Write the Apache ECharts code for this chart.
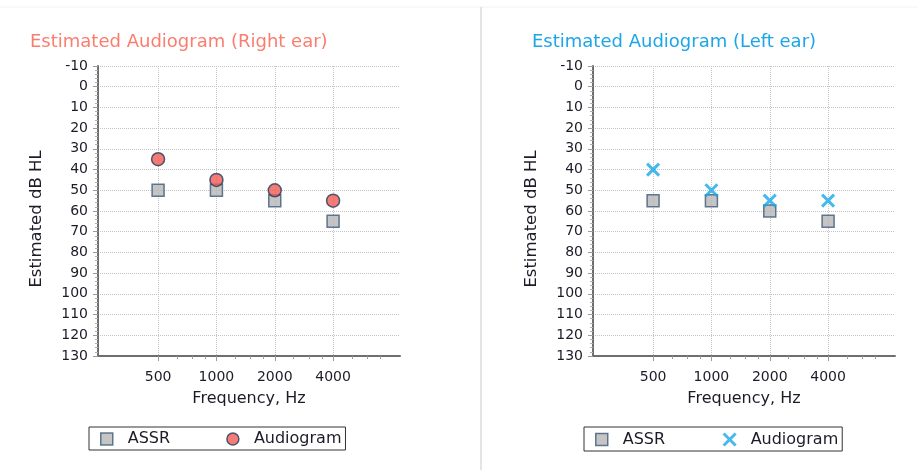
<!DOCTYPE html>
<html>
<head>
<meta charset="utf-8">
<script src="https://cdn.jsdelivr.net/npm/echarts@6/dist/echarts.min.js"></script>
<style>
html,body{margin:0;padding:0;background:#fff;}
#chart{width:917px;height:470px;}
</style>
</head>
<body>
<div id="chart"></div>
<script>
// ---- data ----
const freqs = [500, 1000, 2000, 4000];
const minorFreqs = [625, 750, 875, 1250, 1500, 1750, 2500, 3000, 3500, 5000, 6000, 7000];
const rightASSR = [50, 50, 55, 65];
const rightAudiogram = [35, 45, 50, 55];
const leftASSR = [55, 55, 60, 65];
const leftAudiogram = [40, 50, 55, 55];
const yMin = -10, yMax = 130, yStep = 10;
const titles = ['Estimated Audiogram (Right ear)', 'Estimated Audiogram (Left ear)'];
const seriesNames = ['ASSR', 'Audiogram'];

// ---- styling ----
const FONT = 'DejaVu Sans';
const TXT = '#1c1c28';
const oct = f => Math.log2(f / 500);
const xMin = -1.03, xMax = 4.147;
const gridLefts = [98, 593];
const titleLefts = [25, 527];
const titleColors = ['#fa7d6e', '#1ca6e6'];
const legendLefts = [89, 584];
const X_PATH = 'path://M0,0L10,10M10,0L0,10';

const assrStyle = {color: '#b7b7b7', borderColor: '#3d5a78', borderWidth: 1.5};
const audioStyleR = {color: '#f25a52', borderColor: '#1f3c5c', borderWidth: 1.5};
const audioStyleL = {color: 'none', borderColor: '#19a8e8', borderWidth: 3};

const grid = [], xAxis = [], yAxis = [], series = [], title = [], legend = [];
[0, 1].forEach(g => {
  grid.push({left: gridLefts[g], top: 66, width: 302, height: 290});
  title.push({text: titles[g], left: titleLefts[g], top: 28,
    textStyle: {fontFamily: FONT, fontSize: 18, fontWeight: 'normal', color: titleColors[g]}});
  xAxis.push({
    type: 'value', gridIndex: g, min: xMin, max: xMax, position: 'bottom',
    axisLine: {show: true, onZero: false, lineStyle: {color: '#6e6e6e', width: 2}},
    axisTick: {show: true, customValues: freqs.map(oct), length: 5, lineStyle: {color: '#9a9a9a'}},
    axisLabel: {customValues: freqs.map(oct), formatter: v => String(Math.round(500 * Math.pow(2, v))),
      margin: 14, fontFamily: FONT, fontSize: 14, color: TXT},
    splitLine: {show: true, lineStyle: {type: 'dotted', color: '#c4c4c4'}},
    name: 'Frequency, Hz', nameLocation: 'middle', nameGap: 35,
    nameTextStyle: {fontFamily: FONT, fontSize: 16, color: TXT}
  });
  xAxis.push({
    type: 'value', gridIndex: g, min: xMin, max: xMax, position: 'bottom',
    axisLine: {show: false, onZero: false},
    axisTick: {show: true, customValues: minorFreqs.map(oct), length: 3, lineStyle: {color: '#9a9a9a'}},
    axisLabel: {show: false}, splitLine: {show: false}
  });
  yAxis.push({
    type: 'value', gridIndex: g, inverse: true, min: yMin, max: yMax, interval: yStep,
    axisLine: {show: true, onZero: false, lineStyle: {color: '#6e6e6e', width: 2}},
    axisTick: {show: true, length: 5, lineStyle: {color: '#9a9a9a'}},
    minorTick: {show: true, splitNumber: 5, length: 3, lineStyle: {color: '#b0b0b0'}},
    axisLabel: {margin: 10, fontFamily: FONT, fontSize: 14, color: TXT},
    splitLine: {show: true, lineStyle: {type: 'dotted', color: '#c4c4c4'}},
    name: 'Estimated dB HL', nameLocation: 'middle', nameGap: 53, nameRotate: 90,
    nameTextStyle: {fontFamily: FONT, fontSize: 16.5, color: TXT, padding: [0, 16, 0, 0]}
  });
  const assr = g === 0 ? rightASSR : leftASSR;
  const aud = g === 0 ? rightAudiogram : leftAudiogram;
  series.push({
    type: 'scatter', name: seriesNames[0], xAxisIndex: g * 2, yAxisIndex: g,
    symbol: 'rect', symbolSize: 12, itemStyle: assrStyle,
    data: freqs.map((f, i) => [oct(f), assr[i]]), z: 2
  });
  series.push({
    type: 'scatter', name: seriesNames[1], xAxisIndex: g * 2, yAxisIndex: g,
    symbol: g === 0 ? 'circle' : X_PATH, symbolSize: g === 0 ? 13 : 12,
    itemStyle: g === 0 ? audioStyleR : audioStyleL,
    data: freqs.map((f, i) => [oct(f), aud[i]]), z: 3
  });
  legend.push({
    left: legendLefts[g], top: 427, orient: 'horizontal',
    borderColor: '#333', borderWidth: 1, borderRadius: 0,
    padding: [4, 4, 3, 11], itemGap: 56, itemWidth: 12, itemHeight: 12,
    selectedMode: false,
    textStyle: {fontFamily: FONT, fontSize: 16, color: TXT, padding: [0, 0, 0, 10]},
    data: [
      {name: seriesNames[0], icon: 'rect', itemStyle: assrStyle},
      {name: seriesNames[1], icon: g === 0 ? 'circle' : X_PATH, itemStyle: g === 0 ? audioStyleR : audioStyleL}
    ]
  });
});

const chart = echarts.init(document.getElementById('chart'), null, {renderer: 'canvas'});
chart.setOption({
  backgroundColor: '#fff',
  animation: false,
  title, grid, xAxis, yAxis, series, legend,
  graphic: [
    {type: 'line', shape: {x1: 0, y1: 7, x2: 917, y2: 7}, style: {stroke: '#f2f2f2', lineWidth: 1}, silent: true},
    {type: 'line', shape: {x1: 481, y1: 7, x2: 481, y2: 470}, style: {stroke: '#e4e4e4', lineWidth: 2}, silent: true}
  ]
});
</script>
</body>
</html>
